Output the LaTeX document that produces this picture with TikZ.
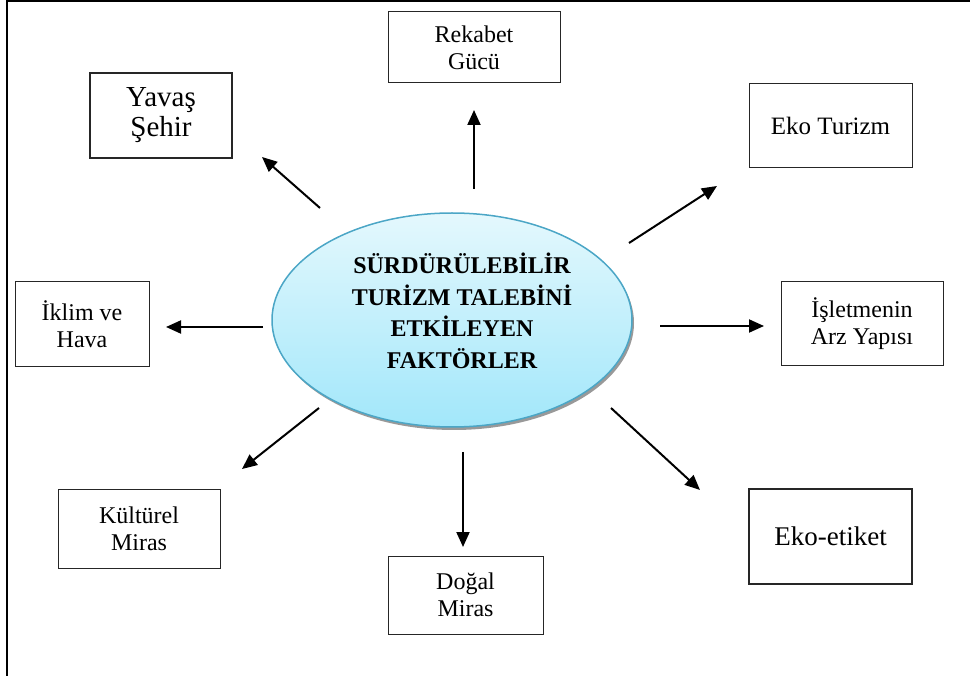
\documentclass[tikz,border=0pt]{standalone}
\usepackage{fontspec}
\setmainfont{Liberation Serif}
\usetikzlibrary{arrows.meta,shapes.geometric,shadows}
\definecolor{ovalTop}{HTML}{E4F8FD}
\definecolor{ovalBottom}{HTML}{A2E7FA}
\definecolor{ovalEdge}{HTML}{4BA6C6}
\tikzset{
  factor/.style={draw=black!85, line width=1pt, fill=white, inner sep=0pt,
    align=center, font=\fontsize{24}{27}\selectfont},
  factorbold/.style={factor, line width=2pt},
  flow/.style={line width=2pt, -{Triangle[length=15pt,width=13pt]}},
  frameline/.style={line width=2.2pt},
}
\begin{document}
\begin{tikzpicture}[x=1pt,y=-1pt]
  \useasboundingbox (0,0) rectangle (970,676);
  % page frame (top and left edges)
  \coordinate (fTL) at (7,1);
  \coordinate (fTR) at (972,1);
  \coordinate (fBL) at (7,678);
  \draw[frameline] (fTR) -- (fTL) -- (fBL);

  % central oval with drop shadow
  \fill[black!40] (454,323) ellipse [x radius=180, y radius=107];
  \node[ellipse, minimum width=360, minimum height=214, draw=ovalEdge, line width=1.5pt,
        top color=ovalTop, bottom color=ovalBottom] (core) at (452,320) {};
  \node[align=center, font=\bfseries\fontsize{24}{31.5}\selectfont] (coretext) at (462,311)
    {SÜRDÜRÜLEBİLİR\\TURİZM TALEBİNİ\\ETKİLEYEN\\FAKTÖRLER};

  % factor boxes
  \node[factor, minimum width=172, minimum height=71] (rekabet) at (474,47.5) {Rekabet\\Gücü};
  \node[factorbold, minimum width=142, minimum height=85, font=\fontsize{29}{30}\selectfont]
    (yavas) at (161,115.5) {Yavaş\\Şehir};
  \node[factor, minimum width=163, minimum height=84, font=\fontsize{25}{27}\selectfont]
    (ekoturizm) at (830.5,126) {Eko Turizm};
  \node[factor, minimum width=162, minimum height=84] (isletme) at (862,324) {İşletmenin\\Arz Yapısı};
  \node[factorbold, minimum width=163, minimum height=95, font=\fontsize{27}{29}\selectfont]
    (etiket) at (830.5,536.5) {Eko-etiket};
  \node[factor, minimum width=162, minimum height=79] (kultur) at (139,528.5) {Kültürel\\Miras};
  \node[factor, minimum width=155, minimum height=78] (dogal) at (465.5,595) {Doğal\\Miras};
  \node[factor, minimum width=134, minimum height=85] (iklim) at (82,324.5) {İklim ve\\Hava};

  % arrow ends
  \coordinate (aUpS) at (474,189);    \coordinate (aUpE) at (474,110);
  \coordinate (aYvS) at (320,208);    \coordinate (aYvE) at (262,157);
  \coordinate (aEtS) at (629,243);    \coordinate (aEtE) at (717,186);
  \coordinate (aIsS) at (660,326);    \coordinate (aIsE) at (764,326);
  \coordinate (aEkS) at (611,408);    \coordinate (aEkE) at (700,490);
  \coordinate (aDgS) at (463,452);    \coordinate (aDgE) at (463,547);
  \coordinate (aKuS) at (319,408);    \coordinate (aKuE) at (242,469);
  \coordinate (aIkS) at (263,327);    \coordinate (aIkE) at (166,327);

  \draw[flow] (aUpS) -- (aUpE);
  \draw[flow] (aYvS) -- (aYvE);
  \draw[flow] (aEtS) -- (aEtE);
  \draw[flow] (aIsS) -- (aIsE);
  \draw[flow] (aEkS) -- (aEkE);
  \draw[flow] (aDgS) -- (aDgE);
  \draw[flow] (aKuS) -- (aKuE);
  \draw[flow] (aIkS) -- (aIkE);
\end{tikzpicture}
\end{document}
